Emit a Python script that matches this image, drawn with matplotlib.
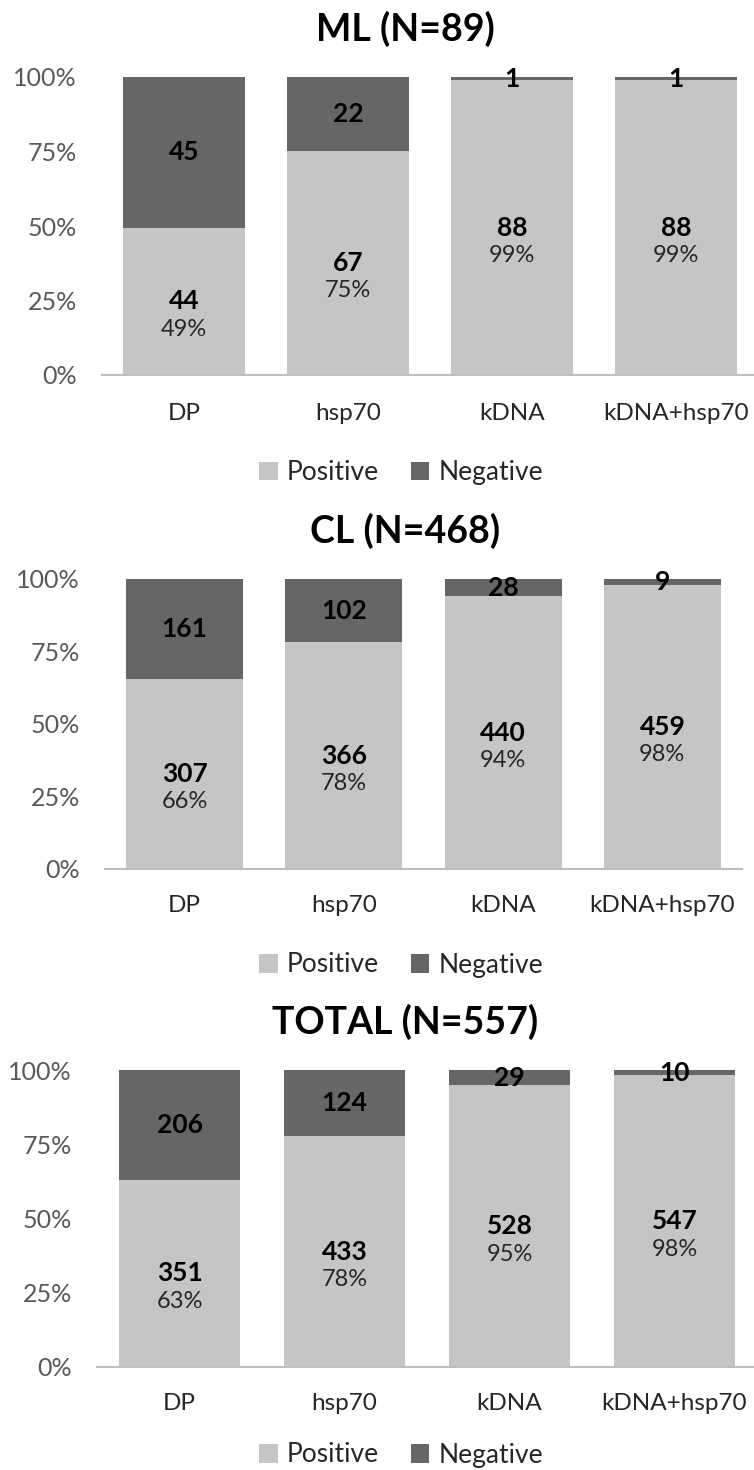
import matplotlib
matplotlib.use("Agg")
import matplotlib.pyplot as plt
from matplotlib.patches import Patch
import numpy as np

plt.rcParams['font.family'] = ['Lato', 'DejaVu Sans']

categories = ["DP", "hsp70", "kDNA", "kDNA+hsp70"]
titles = ["ML (N=89)", "CL (N=468)", "TOTAL (N=557)"]

ml_positive = [44, 67, 88, 88]
ml_negative = [45, 22, 1, 1]
ml_pct = ["49%", "75%", "99%", "99%"]

cl_positive = [307, 366, 440, 459]
cl_negative = [161, 102, 28, 9]
cl_pct = ["66%", "78%", "94%", "98%"]

total_positive = [351, 433, 528, 547]
total_negative = [206, 124, 29, 10]
total_pct = ["63%", "78%", "95%", "98%"]

yticks = [0, 0.25, 0.5, 0.75, 1.0]
ytick_labels = ["0%", "25%", "50%", "75%", "100%"]

POS_C = "#C5C5C5"
NEG_C = "#666666"

W, H = 754, 1470
fig = plt.figure(figsize=(W / 100, H / 100), dpi=100)

panels = [(ml_positive, ml_negative, ml_pct),
          (cl_positive, cl_negative, cl_pct),
          (total_positive, total_negative, total_pct)]
# (left, right, top, bottom) in pixels
axes_px = [(102, 758, 77, 375), (105, 742, 579, 869), (97, 757, 1070, 1367)]
bar_w = [0.74, 0.735, 0.73]
title_y = [29, 531, 1022]
xlabel_y = [413, 905, 1404]
legend_y = [473, 965, 1455]

x = np.arange(len(categories))

for k, ((p, n, pct), (l, r, top, bot)) in enumerate(zip(panels, axes_px)):
    rr = min(r, W)
    ax = fig.add_axes([l / W, 1 - bot / H, (rr - l) / W, (bot - top) / H])
    span = (r - l) / 4.0
    ax.set_xlim(-0.5, -0.5 + (rr - l) / span)
    ax.set_ylim(0, 1)
    p = np.array(p, float)
    n = np.array(n, float)
    tot = p + n
    pf = p / tot
    nf = n / tot
    ax.bar(x, pf, width=bar_w[k], color=POS_C, linewidth=0)
    ax.bar(x, nf, width=bar_w[k], bottom=pf, color=NEG_C, linewidth=0)
    ax.set_yticks(yticks)
    ax.set_yticklabels(ytick_labels, fontsize=18, color="#595959")
    ax.set_xticks(x)
    ax.set_xticklabels([])
    ax.tick_params(axis="y", length=0, pad=18)
    ax.tick_params(axis="x", length=0)
    for s in ["top", "right", "left"]:
        ax.spines[s].set_visible(False)
    ax.spines["bottom"].set_color("#BFBFBF")
    ax.spines["bottom"].set_linewidth(1.5)
    pct_off = 28.0 / (bot - top)
    for i in range(len(categories)):
        yc = pf[i] / 2
        ax.text(x[i], yc, f"{int(p[i])}", ha="center", va="center",
                fontsize=19, fontweight="bold", color="black")
        ax.text(x[i], yc - pct_off, pct[i], ha="center", va="center",
                fontsize=17, color="#262626")
        ax.text(x[i], pf[i] + nf[i] / 2, f"{int(n[i])}", ha="center", va="center",
                fontsize=19, fontweight="bold", color="black")
    # category labels
    for i, c in enumerate(categories):
        xd = ax.transData.transform((x[i], 0))[0]
        fig.text(xd / W, 1 - xlabel_y[k] / H, c, ha="center", va="center",
                 fontsize=17.5, color="#262626")
    fig.text(405 / W, 1 - title_y[k] / H, titles[k], ha="center", va="center",
             fontsize=27, fontweight="bold", color="black")
    handles = [Patch(facecolor=POS_C, label="Positive"), Patch(facecolor=NEG_C, label="Negative")]
    fig.legend(handles=handles, loc="center", bbox_to_anchor=(401 / W, 1 - legend_y[k] / H),
               ncol=2, frameon=False, fontsize=19, handlelength=0.7, handleheight=0.7,
               handletextpad=0.35, columnspacing=1.2, labelcolor="#262626")

fig.savefig("out.png", dpi=100)
